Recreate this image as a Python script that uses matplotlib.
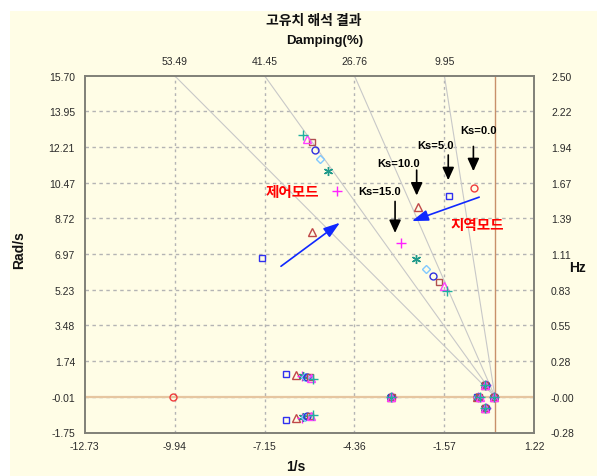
import numpy as np
import matplotlib
matplotlib.use("Agg")
import matplotlib.pyplot as plt
from matplotlib.patches import Rectangle

# ---- axis ticks and labels ----
x_ticks = [-12.73, -9.94, -7.15, -4.36, -1.57, 1.22]
x_labels = ["-12.73", "-9.94", "-7.15", "-4.36", "-1.57", "1.22"]
y_ticks = [-1.75, -0.005, 1.74, 3.485, 5.23, 6.975, 8.72, 10.465, 12.21, 13.955, 15.70]
y_labels = ["-1.75", "-0.01", "1.74", "3.48", "5.23", "6.97", "8.72", "10.47", "12.21", "13.95", "15.70"]
hz_labels = ["-0.28", "-0.00", "0.28", "0.55", "0.83", "1.11", "1.39", "1.67", "1.94", "2.22", "2.50"]
damp_x = [-9.94, -7.15, -4.36, -1.57]
damp_labels = ["53.49", "41.45", "26.76", "9.95"]

# ---- eigenvalues per stabilizer gain (real part 1/s, imaginary part rad/s) ----
ks = [0.0, 5.0, 10.0, 15.0, 20.0, 25.0, 30.0, 35.0, 40.0, 45.0]
local_re = [-0.64, -1.42, -2.40, -2.91, -2.45, -2.13, -1.93, -1.74, -1.59, -1.48]
local_im = [10.23, 9.84, 9.27, 7.51, 6.72, 6.23, 5.91, 5.60, 5.40, 5.18]
ctrl_re = [-10.00, -7.22, -5.68, -4.89, -5.19, -5.42, -5.57, -5.69, -5.82, -5.95]
ctrl_im = [0.00, 6.80, 8.06, 10.06, 11.05, 11.61, 12.06, 12.44, 12.59, 12.82]
low_re = [np.nan, -6.48, -6.18, -5.99, -5.95, -5.89, -5.83, -5.74, -5.71, -5.64]
low_im = [np.nan, 1.12, 1.06, 1.02, 1.00, 0.98, 0.96, 0.94, 0.92, 0.88]
real1_re = [-3.22, -3.22, -3.22, -3.21, -3.22, -3.23, -3.22, -3.21, -3.22, -3.22]
real2_re = [-0.57, -0.56, -0.55, -0.54, -0.53, -0.52, -0.51, -0.50, -0.48, -0.47]
real3_re = [-0.03, -0.03, -0.03, -0.03, -0.03, -0.03, -0.03, -0.03, -0.03, -0.03]
slow_re = [-0.30, -0.30, -0.30, -0.29, -0.30, -0.30, -0.29, -0.30, -0.30, -0.30]
slow_im = [0.57, 0.57, 0.57, 0.57, 0.57, 0.57, 0.57, 0.57, 0.57, 0.57]

markers = ["o", "s", "^", "+", (6, 2, 0), "D", "o", "s", "^", "+"]
colors = ["#f03c3c", "#3030f0", "#c04848", "#ff20ff", "#209a8a",
          "#80c8ff", "#3030e0", "#b05050", "#ff40ff", "#20b0a0"]
sizes = [5, 5, 5.5, 7, 6.5, 4, 5, 5, 5.5, 7]

W, H = 597, 477
fig = plt.figure(figsize=(W / 100, H / 100), dpi=100)
fig.patch.set_facecolor("white")
fig.patches.append(Rectangle((10 / W, 0), 1, 1 - 12 / H, transform=fig.transFigure,
                             facecolor="#fffde6", edgecolor="none", zorder=-10))

L, R, T, B = 84.7, 534.3, 76.7, 433.5
ax = fig.add_axes([L / W, 1 - B / H, (R - L) / W, (B - T) / H])
ax.set_facecolor("#fffde6")
ax.set_xlim(x_ticks[0], x_ticks[-1])
ax.set_ylim(y_ticks[0], y_ticks[-1])

tick_font = dict(family="Liberation Sans", size=7.5, color="#2a2a2a")

ax.set_xticks(x_ticks)
ax.set_xticklabels(x_labels, **tick_font)
ax.set_yticks(y_ticks)
ax.set_yticklabels(y_labels, **tick_font)
ax.tick_params(length=0, pad=6)
ax.tick_params(axis="y", pad=7)

for s in ax.spines.values():
    s.set_color("#808078")
    s.set_linewidth(1.4)

# dashed grid
for xv in x_ticks[1:-1]:
    ax.axvline(xv, color="#b4b4b4", lw=1.0, ls=(0, (2, 2.5)), zorder=1)
for yv in y_ticks[1:-1]:
    ax.axhline(yv, color="#b4b4b4", lw=1.0, ls=(0, (2.5, 2.5)), zorder=1)

# zero axes
ax.axhline(0, color="#e6c6a0", lw=1.6, zorder=2)
ax.axvline(0, color="#c8906a", lw=1.0, zorder=2)

# constant damping rays
for xv in damp_x:
    ax.plot([0, xv], [0, y_ticks[-1]], color="#c8c8c8", lw=0.8, zorder=2)

# eigenvalues
for i in range(len(ks)):
    mk = markers[i]
    filled = mk in ("+",) or isinstance(mk, tuple)
    style = dict(marker=mk, ls="none", ms=sizes[i], mew=1.0, zorder=5,
                 color=colors[i], mfc=colors[i] if filled else "none", mec=colors[i])
    re = [local_re[i], ctrl_re[i], low_re[i], low_re[i], real1_re[i], real2_re[i],
          real3_re[i], slow_re[i], slow_re[i]]
    im = [local_im[i], ctrl_im[i], low_im[i], -low_im[i], 0, 0, 0, slow_im[i], -slow_im[i]]
    ax.plot(re, im, **style)

# right axis in Hz
ax2 = ax.twinx()
ax2.set_ylim(ax.get_ylim())
ax2.set_yticks(y_ticks)
ax2.set_yticklabels(hz_labels, **tick_font)
ax2.tick_params(length=0, pad=12)
for s in ax2.spines.values():
    s.set_visible(False)

# top axis with damping ratio
ax3 = ax.twiny()
ax3.set_xlim(ax.get_xlim())
ax3.set_xticks(damp_x)
ax3.set_xticklabels(damp_labels, **tick_font)
ax3.tick_params(length=0, pad=7)
for s in ax3.spines.values():
    s.set_visible(False)

# annotations
ks_font = dict(family="Liberation Sans", size=8, weight="bold", color="black",
               ha="center", va="center")
ax.text(-0.52, 13.06, "Ks=0.0", **ks_font)
ax.text(-1.86, 12.31, "Ks=5.0", **ks_font)
ax.text(-3.00, 11.45, "Ks=10.0", **ks_font)
ax.text(-3.57, 10.06, "Ks=15.0", **ks_font)

karrow = dict(arrowstyle="-|>,head_length=0.7,head_width=0.32", color="black",
              lw=1.2, mutation_scale=11, shrinkA=0, shrinkB=0)
for xa, y0, y1 in [(-0.67, 12.24, 11.03), (-1.45, 11.82, 10.59),
                   (-2.43, 11.08, 9.84), (-3.10, 9.55, 8.01)]:
    ax.annotate("", xy=(xa, y1), xytext=(xa, y0), arrowprops=karrow, zorder=6)

kr_font = dict(family=["Noto Sans CJK KR", "DejaVu Sans"], size=10.5, weight="bold",
               color="#ff0000", ha="center", va="center")
ax.text(-6.29, 10.06, "제어모드", **kr_font)
ax.text(-0.56, 8.47, "지역모드", **kr_font)

barrow = dict(arrowstyle="-|>,head_length=0.9,head_width=0.3", color="#1028ff",
              lw=1.2, mutation_scale=11, shrinkA=0, shrinkB=0)
ax.annotate("", xy=(-2.58, 8.59), xytext=(-0.49, 9.76), arrowprops=barrow, zorder=6)
ax.annotate("", xy=(-4.81, 8.51), xytext=(-6.64, 6.38), arrowprops=barrow, zorder=6)

# titles and axis names
fig.text(314 / W, 1 - 21.5 / H, "고유치 해석 결과", family=["Noto Sans CJK KR", "DejaVu Sans"],
         size=10, weight="bold", ha="center", va="center", color="#111111")
fig.text(325 / W, 1 - 41 / H, "Damping(%)", family="Liberation Sans", size=9.5,
         weight="bold", ha="center", va="center", color="#111111")
fig.text(296 / W, 1 - 467 / H, "1/s", family="Liberation Sans", size=10,
         weight="bold", ha="center", va="center", color="#111111")
fig.text(19 / W, 1 - 250 / H, "Rad/s", family="Liberation Sans", size=10,
         weight="bold", ha="center", va="center", rotation=90, color="#111111")
fig.text(578 / W, 1 - 268 / H, "Hz", family="Liberation Sans", size=10,
         weight="bold", ha="center", va="center", color="#111111")

fig.savefig("out.png", dpi=100, facecolor=fig.get_facecolor())
